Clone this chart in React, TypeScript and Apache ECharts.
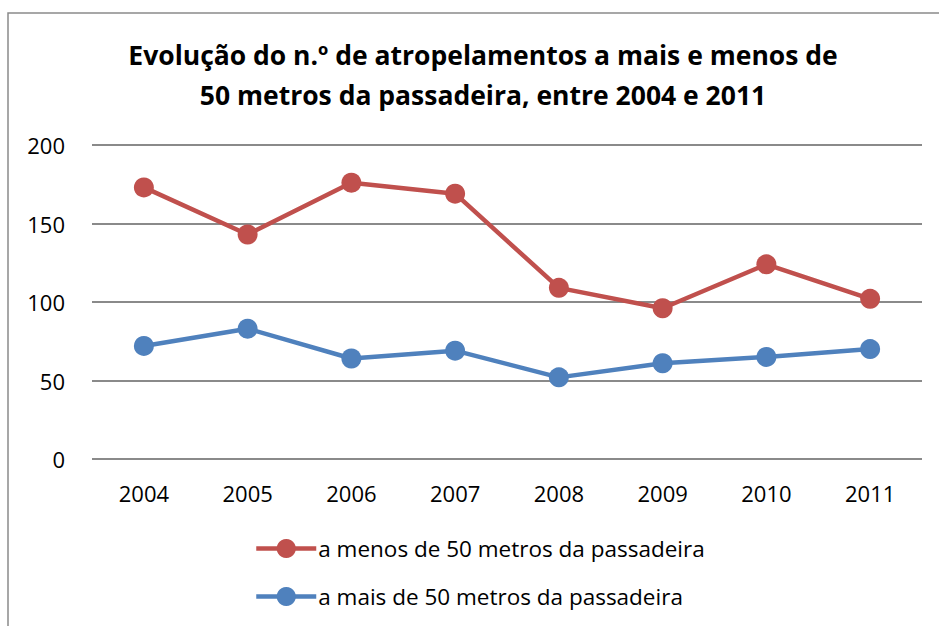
import React, { useEffect, useRef } from "react";
import * as echarts from "echarts";

const categories = ["2004", "2005", "2006", "2007", "2008", "2009", "2010", "2011"];
const menos = [173, 143, 176, 169, 109, 96, 124, 102];
const mais = [72, 83, 64, 69, 52, 61, 65, 70];
const seriesNames = ["a menos de 50 metros da passadeira", "a mais de 50 metros da passadeira"];
const titleText = "Evolução do n.º de atropelamentos a mais e menos de\n50 metros da passadeira, entre 2004 e 2011";

const FONT = "'Open Sans', 'Noto Sans', sans-serif";

export default function App() {
  const ref = useRef<HTMLDivElement>(null);
  useEffect(() => {
    if (!ref.current) return;
    const chart = echarts.init(ref.current, null, { renderer: "svg" });
    chart.setOption({
      animation: false,
      backgroundColor: "#ffffff",
      textStyle: { fontFamily: FONT },
      graphic: [
        {
          type: "rect",
          shape: { x: 8, y: 13, width: 1000, height: 700 },
          style: { fill: "none", stroke: "#8a8a8a", lineWidth: 1.5 },
          silent: true,
          z: -1,
        },
      ],
      title: {
        text: titleText,
        left: 478,
        textAlign: "center",
        top: 30,
        textStyle: { fontFamily: FONT, fontSize: 26.5, fontWeight: "bold", color: "#000", lineHeight: 40 },
      },
      grid: { left: 92, right: 17, top: 145, bottom: 167, containLabel: false },
      xAxis: {
        type: "category",
        data: categories,
        boundaryGap: true,
        axisLine: { show: false },
        axisTick: { show: false },
        axisLabel: { color: "#000", fontSize: 22, margin: 23, fontFamily: FONT },
      },
      yAxis: {
        type: "value",
        min: 0,
        max: 200,
        interval: 50,
        axisLine: { show: false },
        axisTick: { show: false },
        axisLabel: { color: "#000", fontSize: 22, margin: 27, fontFamily: FONT },
        splitLine: { lineStyle: { color: "#8a8a8a", width: 2 } },
      },
      legend: {
        orient: "vertical",
        left: 249,
        top: 532,
        itemWidth: 60,
        itemHeight: 24,
        itemGap: 25,
        lineStyle: { width: 4.5 },
        textStyle: { color: "#000", fontSize: 22.5, fontFamily: FONT, padding: [0, 0, 0, -3] },
        data: seriesNames,
      },
      series: [
        {
          name: seriesNames[0],
          type: "line",
          data: menos,
          symbol: "circle",
          symbolSize: 20,
          itemStyle: { color: "#C0504D" },
          lineStyle: { color: "#C0504D", width: 4.5 },
        },
        {
          name: seriesNames[1],
          type: "line",
          data: mais,
          symbol: "circle",
          symbolSize: 20,
          itemStyle: { color: "#4F81BD" },
          lineStyle: { color: "#4F81BD", width: 4.5 },
        },
      ],
    });
    return () => chart.dispose();
  }, []);
  return <div ref={ref} style={{ position: "fixed", left: 0, top: 0, width: 939, height: 626 }} />;
}
